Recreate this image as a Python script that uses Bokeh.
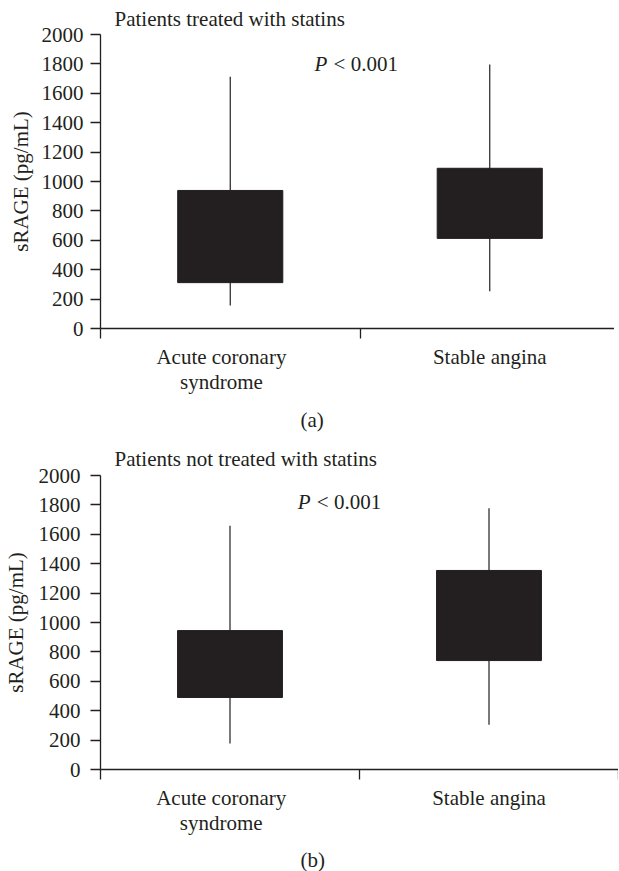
from bokeh.plotting import figure
from bokeh.models import Range1d, FixedTicker, Title, Label
from bokeh.layouts import column
from bokeh.embed import file_html
from bokeh.resources import INLINE

# ---- data ----
categories = ["Acute coronary\nsyndrome", "Stable angina"]

a_low = [156, 253]
a_q1 = [312, 613]
a_q3 = [939, 1090]
a_high = [1713, 1796]

b_low = [177, 304]
b_q1 = [490, 741]
b_q3 = [945, 1354]
b_high = [1658, 1778]

y_ticks = [0, 200, 400, 600, 800, 1000, 1200, 1400, 1600, 1800, 2000]
titles = ["Patients treated with statins", "Patients not treated with statins"]
captions = ["(a)", "(b)"]
p_text = "P < 0.001"

FONT = "Liberation Serif"
INK = "#231f20"
FS = "21px"
LABEL_SHIFT = [-0.034, 0.0]  # small horizontal nudge of category labels


def make_panel(title, caption, low, q1, q3, high, fw, tick_standoff, lab_standoff,
               p_pos, cap_standoff, top_standoff):
    xs = [i + 0.5 for i in range(len(categories))]
    p = figure(frame_width=fw, frame_height=294,
               x_range=Range1d(0, len(categories)), y_range=Range1d(0, 2000),
               output_backend="svg", toolbar_location=None,
               min_border_left=0, min_border_right=0,
               min_border_top=0, min_border_bottom=0)
    p.xgrid.visible = False
    p.ygrid.visible = False
    p.outline_line_color = None
    p.background_fill_color = "white"
    p.border_fill_color = "white"

    t = Title(text=title, align="left", offset=14, text_font=FONT,
              text_font_size=FS, text_font_style="normal", text_color=INK,
              standoff=top_standoff)
    p.add_layout(t, "above")

    # whiskers
    p.segment(x0=xs, y0=low, x1=xs, y1=high, line_color=INK, line_width=1.2)
    # boxes
    p.vbar(x=xs, width=0.405, bottom=q1, top=q3, fill_color=INK, line_color=INK)

    # x axis
    lx = [x + s for x, s in zip(xs, LABEL_SHIFT)]
    xa = p.xaxis[0]
    xa.ticker = FixedTicker(ticks=lx, minor_ticks=list(range(len(categories) + 1)))
    xa.major_label_overrides = {x: c for x, c in zip(lx, categories)}
    xa.major_tick_in = 0
    xa.major_tick_out = 0
    xa.minor_tick_in = 0
    xa.minor_tick_out = 10
    xa.minor_tick_line_color = INK
    xa.minor_tick_line_width = 1.3
    xa.axis_line_color = INK
    xa.axis_line_width = 1.3
    xa.major_label_text_font = FONT
    xa.major_label_text_font_size = FS
    xa.major_label_text_color = INK
    xa.major_label_text_line_height = 1.05
    xa.major_label_standoff = 6

    ya = p.yaxis[0]
    ya.ticker = FixedTicker(ticks=y_ticks, minor_ticks=[])
    ya.major_tick_in = 0
    ya.major_tick_out = 10
    ya.major_tick_line_color = INK
    ya.major_tick_line_width = 1.3
    ya.axis_line_color = INK
    ya.axis_line_width = 1.3
    ya.major_label_text_font = FONT
    ya.major_label_text_font_size = FS
    ya.major_label_text_color = INK
    ya.major_label_standoff = tick_standoff
    ya.axis_label = "sRAGE (pg/mL)"
    ya.axis_label_text_font = FONT
    ya.axis_label_text_font_size = FS
    ya.axis_label_text_font_style = "normal"
    ya.axis_label_text_color = INK
    ya.axis_label_standoff = lab_standoff

    px, py = p_pos
    p.add_layout(Label(x=px, y=py, text="P", text_font=FONT, text_font_size=FS,
                       text_font_style="italic", text_color=INK,
                       text_baseline="middle"))
    p.add_layout(Label(x=px, y=py, x_offset=19, text=p_text[2:], text_font=FONT,
                       text_font_size=FS, text_color=INK, text_baseline="middle"))

    cap = Title(text=caption, align="left", offset=200, text_font=FONT,
                text_font_size=FS, text_font_style="normal", text_color=INK,
                standoff=cap_standoff)
    p.add_layout(cap, "below")
    return p


pa = make_panel(titles[0], captions[0], a_low, a_q1, a_q3, a_high,
                519, 7, 6, (0.825, 1802), 18, 8)
pb = make_panel(titles[1], captions[1], b_low, b_q1, b_q3, b_high,
                518, 10, 8, (0.762, 1821), 16, 9)

layout = column(pa, pb, spacing=0)
open("out.html", "w").write(file_html(layout, INLINE))
